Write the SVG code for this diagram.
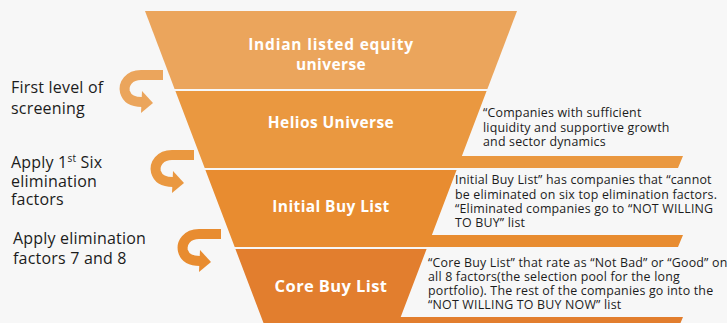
<svg xmlns="http://www.w3.org/2000/svg" width="727" height="323" viewBox="0 0 727 323">
<style>
.band-t{font-family:"Open Sans","Noto Sans",sans-serif;font-weight:700;fill:#ffffff;text-anchor:middle;font-size:15.5px;letter-spacing:0.4px}
.lbl{font-family:"Open Sans","Noto Sans",sans-serif;font-size:16px;letter-spacing:0.2px;fill:#1c1c1c}
.desc{font-family:"Open Sans","Noto Sans",sans-serif;font-size:12.4px;letter-spacing:0.2px;fill:#1c1c1c}
</style>
<defs>
<g id="curl">
<path d="M0,5 L-22,5 C-34,5 -40,14 -38,22 C-36,29 -30,32 -21,32" fill="none" stroke-width="10"/>
<polygon points="-21,21 -10,33 -22,43" stroke="none"/>
</g>
</defs>
<rect x="0" y="0" width="727" height="323" fill="#F7F7F7"/>
<g id="band1">
<polygon points="145,11 517,11 487.4,89 174.6,89" fill="#EBA55C"/>
<text class="band-t" x="331" y="50" style="letter-spacing:0.8px">Indian listed equity</text>
<text class="band-t" x="331" y="70">universe</text>
</g>
<g id="band2">
<polygon points="175.4,91 486.6,91 461.9,156 683,156 678,168 204.7,168" fill="#EA9840"/>
<text class="band-t" x="331" y="128">Helios Universe</text>
</g>
<g id="band3">
<polygon points="205.4,170 456.6,170 431.9,235 683,235 678,247 234.7,247" fill="#E88C30"/>
<text class="band-t" x="331" y="212">Initial Buy List</text>
</g>
<g id="band4">
<polygon points="235.4,249 426.6,249 400.7,317 683,317 680.5,323 263.5,323" fill="#E27E2E"/>
<text class="band-t" x="331" y="292" style="font-size:16.5px">Core Buy List</text>
</g>
<g id="connectors">
<use href="#curl" transform="translate(163,70)" stroke="#EBA55C" fill="#EBA55C"/>
<use href="#curl" transform="translate(194,150)" stroke="#EA9840" fill="#EA9840"/>
<use href="#curl" transform="translate(221,229)" stroke="#E88C30" fill="#E88C30"/>
</g>
<g id="label1">
<text class="lbl" x="11" y="93">First level of</text>
<text class="lbl" x="11" y="114">screening</text>
</g>
<g id="label2">
<text class="lbl" x="11" y="168">Apply 1<tspan font-size="10" dy="-6">st</tspan><tspan dy="6"> Six</tspan></text>
<text class="lbl" x="11" y="187">elimination</text>
<text class="lbl" x="11" y="205">factors</text>
</g>
<g id="label3">
<text class="lbl" x="13" y="244">Apply elimination</text>
<text class="lbl" x="13" y="264">factors 7 and 8</text>
</g>
<g id="desc1">
<text class="desc" x="483" y="117">“Companies with sufficient</text>
<text class="desc" x="483" y="132">liquidity and supportive growth</text>
<text class="desc" x="483" y="146">and sector dynamics</text>
</g>
<g id="desc2">
<text class="desc" x="455" y="184">Initial Buy List” has companies that “cannot</text>
<text class="desc" x="455" y="199">be eliminated on six top elimination factors.</text>
<text class="desc" x="455" y="213">“Eliminated companies go to “NOT WILLING</text>
<text class="desc" x="455" y="227">TO BUY” list</text>
</g>
<g id="desc3">
<text class="desc" x="428" y="267">“Core Buy List” that rate as “Not Bad” or “Good” on</text>
<text class="desc" x="428" y="281">all 8 factors(the selection pool for the long</text>
<text class="desc" x="428" y="295">portfolio). The rest of the companies go into the</text>
<text class="desc" x="428" y="309">“NOT WILLING TO BUY NOW” list</text>
</g>
</svg>
